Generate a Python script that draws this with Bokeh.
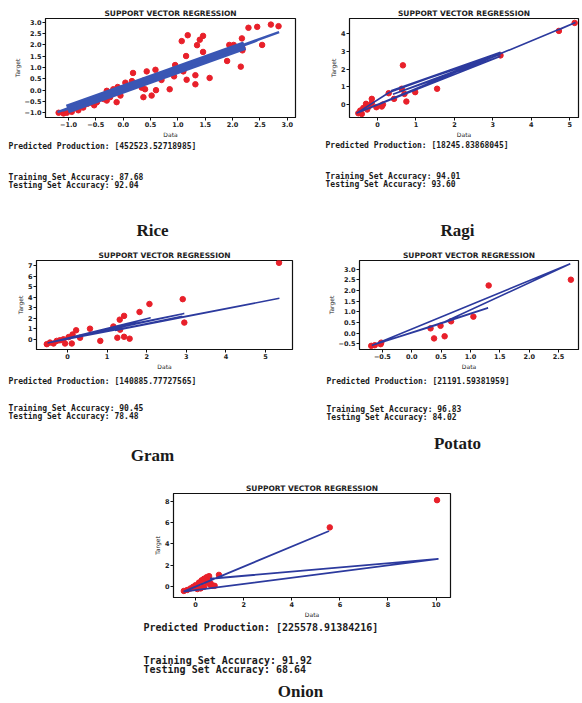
from bokeh.plotting import figure
from bokeh.layouts import column, row
from bokeh.models import Range1d, FixedTicker, Spacer
from bokeh.core.properties import value
from bokeh.embed import file_html
from bokeh.resources import INLINE

# ---------------- data ----------------
TITLE = "SUPPORT VECTOR REGRESSION"

rice_x = [1.18, 1.46, 1.40, 1.07, 1.35, 1.46, 1.15, 2.29, 2.45, 2.70, 2.84, 2.17, 2.18, 1.94, 2.02,
          2.54, 2.18, 1.90, 2.15, 1.07, 0.95, 1.10, 0.93, 1.16, 1.32, 1.32, 1.58, 0.85, 0.59, 0.43,
          0.38, 0.34, 0.40, 0.52, 0.60, 0.37, 0.31, 0.18, 0.04, 0.16, -0.10, -0.18, -0.30, -0.24,
          -0.42, -0.48, -0.53, -0.65, -0.73, -0.82, -0.94, -1.09, -1.18, -0.30, -0.12, -0.05,
          -0.53, -0.36, -0.76, -1.03, 0.70, 1.00, 0.25, -0.60]
rice_y = [2.43, 2.40, 2.23, 2.17, 1.99, 1.69, 1.51, 2.76, 2.80, 2.90, 2.83, 2.29, 1.86, 2.00, 2.00,
          2.00, 1.76, 1.29, 1.04, 0.97, 1.11, 0.83, 0.61, 0.46, 0.66, 0.26, 0.54, 0.04, 0.90, 0.83,
          0.43, 0.11, 0.04, -0.24, 0.00, -0.31, 0.33, 0.76, 0.33, 0.40, 0.14, 0.04, -0.03, -0.31,
          -0.31, -0.53, -0.67, -0.60, -0.77, -0.89, -0.96, -1.03, -1.00, -0.46, -0.53, -0.24,
          -0.43, -0.39, -0.67, -1.00, 0.45, 0.95, 0.30, -0.55]
rice_fit_x = [-1.20, 2.85, -1.10, 2.20, -1.15, 2.45]
rice_fit_y = [-0.97, 2.57, -0.90, 2.06, -0.93, 2.20]
rice_band_x = [-1.02, 2.22]
rice_band_y = [-0.83, 1.97]

ragi_x = [5.13, 4.72, 3.20, 0.66, 1.55, 0.98, 0.75, 0.70, 0.63, 0.29, 0.43, 0.14, 0.11, -0.15,
          -0.15, -0.23, -0.30, -0.37, -0.45, -0.50, -0.41, -0.03, -0.27]
ragi_y = [4.60, 4.15, 2.77, 2.21, 0.89, 0.70, 0.17, 0.60, 0.89, 0.64, 0.32, 0.00, -0.11, 0.32,
          0.08, -0.11, 0.04, -0.19, -0.34, -0.49, -0.53, -0.15, -0.28]
ragi_fit_x = [-0.55, 0.30, 3.20, 0.35, 3.20, 0.40, 3.20, -0.50, 5.15, 4.72]
ragi_fit_y = [-0.50, 0.68, 2.95, 0.78, 2.83, 0.58, 2.72, -0.45, 4.62, 4.22]

gram_x = [5.34, 2.91, 2.95, 2.07, 1.82, 1.43, 1.32, 1.16, 1.33, 1.26, 1.43, 1.57, 0.83, 0.57,
          0.22, 0.13, 0.32, 0.11, -0.06, 0.03, -0.10, -0.27, -0.44, -0.52, -0.35, -0.19]
gram_y = [7.28, 3.82, 1.59, 3.36, 2.60, 2.23, 1.87, 1.22, 0.92, 0.15, 0.24, 0.06, -0.15, 1.01,
          0.86, 0.46, 0.15, -0.40, -0.40, 0.21, 0.00, -0.15, -0.31, -0.46, -0.40, -0.09]
gram_fit_x = [-0.50, 2.10, 0.90, 2.95, -0.45, 5.35, 1.20, 2.90]
gram_fit_y = [-0.35, 2.05, 0.90, 2.45, -0.30, 3.90, 0.85, 2.20]

potato_x = [2.71, 1.31, 1.05, 0.32, 0.49, 0.67, 0.38, 0.56, -0.69, -0.63, -0.53, -0.52]
potato_y = [2.50, 2.23, 0.77, 0.22, 0.34, 0.55, -0.25, -0.15, -0.60, -0.57, -0.52, -0.45]
potato_fit_x = [-0.68, 2.70, 0.50, 1.30, -0.62, 0.45]
potato_fit_y = [-0.58, 3.25, 0.45, 1.18, -0.52, 0.40]

onion_x = [10.04, 5.58, 0.97, 0.49, -0.49, -0.35, -0.21, -0.10, 0.00, 0.14, 0.25, 0.35, 0.46,
           0.56, 0.49, 0.63, 0.69, 0.35, 0.21, 0.07, 0.79, 0.60]
onion_y = [8.08, 5.54, 1.11, 0.81, -0.39, -0.30, -0.15, 0.00, 0.15, 0.39, 0.60, 0.75, 0.90,
           0.99, 0.45, 0.30, 0.09, 0.00, -0.15, -0.21, 0.09, 0.20]
onion_fit_x = [5.55, -0.50, 10.10, 0.60]
onion_fit_y = [5.20, -0.45, 2.60, 0.75]

rice_xticks = [-1.0, -0.5, 0.0, 0.5, 1.0, 1.5, 2.0, 2.5, 3.0]
rice_yticks = [-1.0, -0.5, 0.0, 0.5, 1.0, 1.5, 2.0, 2.5, 3.0]
ragi_xticks = [0, 1, 2, 3, 4, 5]
ragi_yticks = [0, 1, 2, 3, 4]
gram_xticks = [0, 1, 2, 3, 4, 5]
gram_yticks = [0, 1, 2, 3, 4, 5, 6, 7]
potato_xticks = [-0.5, 0.0, 0.5, 1.0, 1.5, 2.0, 2.5]
potato_yticks = [-0.5, 0.0, 0.5, 1.0, 1.5, 2.0, 2.5, 3.0]
onion_xticks = [0, 2, 4, 6, 8, 10]
onion_yticks = [0, 2, 4, 6, 8]

crops = ["Rice", "Ragi", "Gram", "Potato", "Onion"]
predicted = ["452523.52718985", "18245.83868045", "140885.77727565", "21191.59381959", "225578.91384216"]
train_acc = ["87.68", "94.01", "90.45", "96.83", "91.92"]
test_acc = ["92.04", "93.60", "78.48", "84.02", "68.64"]

# ---------------- styling ----------------
RED = "#e8202a"
BLUE = "#2c3a9e"
BAND = "#3a56b4"
MONO = "DejaVu Sans Mono"
SERIF = "Liberation Serif"


def tick_text(t, dec):
    return (f"{t:.{dec}f}").replace("-", "\u2212")


def panel(width, height, borders, xr, yr, xticks, yticks, dec, px, py, lines):
    l, r, t, b = borders
    p = figure(width=width, height=height, x_range=Range1d(*xr), y_range=Range1d(*yr),
               output_backend="svg", toolbar_location=None, title=TITLE,
               min_border_left=l, min_border_right=r, min_border_top=t, min_border_bottom=b)
    p.title.align = "center"
    p.title.text_font = "DejaVu Sans"
    p.title.text_font_size = "7.5px"
    p.title.text_font_style = "bold"
    p.title.text_color = "#222222"
    p.title.standoff = 1
    p.title.offset = 0
    p.xgrid.visible = False
    p.ygrid.visible = False
    p.outline_line_color = "#111111"
    p.outline_line_width = 1.2
    p.background_fill_color = "white"
    p.border_fill_color = "white"
    p.xaxis.ticker = FixedTicker(ticks=xticks)
    p.yaxis.ticker = FixedTicker(ticks=yticks)
    p.xaxis.major_label_overrides = {t_: tick_text(t_, dec[0]) for t_ in xticks}
    p.yaxis.major_label_overrides = {t_: tick_text(t_, dec[1]) for t_ in yticks}
    for ax in (p.xaxis[0], p.yaxis[0]):
        ax.major_tick_out = 3
        ax.major_tick_in = 0
        ax.minor_tick_line_color = None
        ax.axis_line_color = "#111111"
        ax.major_tick_line_color = "#111111"
        ax.major_label_text_font = "DejaVu Sans"
        ax.major_label_text_font_size = "6.5px"
        ax.major_label_text_font_style = "bold"
        ax.major_label_text_color = "#222222"
        ax.major_label_standoff = 1
        ax.axis_label_text_font = "DejaVu Sans"
        ax.axis_label_text_font_size = "6px"
        ax.axis_label_text_font_style = "normal"
        ax.axis_label_text_color = "#222222"
        ax.axis_label_standoff = 1
    p.xaxis.axis_label = "Data"
    p.yaxis.axis_label = "Target"
    p.scatter(px, py, size=5.5, color=RED, line_color=RED)
    for xs, ys, w, c in lines:
        p.line(xs, ys, line_width=w, line_color=c)
    return p


def text_fig(width, height, items):
    p = figure(width=width, height=height, x_range=Range1d(0, width), y_range=Range1d(height, 0),
               output_backend="svg", toolbar_location=None, x_axis_type=None, y_axis_type=None,
               min_border=0)
    p.grid.visible = False
    p.outline_line_color = None
    for x, y, txt, font, size, style, align in items:
        p.text(x=[x], y=[y], text=[txt], text_font=value(font), text_font_size=size,
               text_font_style=style, text_align=align, text_baseline="middle",
               text_color="#1a1a1a")
    return p


def info_items(i, x, y0, ys, size, label_xy):
    return [
        (x, y0, f"Predicted Production: [{predicted[i]}]", MONO, size, "bold", "left"),
        (x, ys[0], f"Training Set Accuracy: {train_acc[i]}", MONO, size, "bold", "left"),
        (x, ys[1], f"Testing Set Accuracy: {test_acc[i]}", MONO, size, "bold", "left"),
        (label_xy[0], label_xy[1], crops[i], SERIF, "17px", "bold", "center"),
    ]


p1 = panel(300, 140, (45, 5, 15, 22), (-1.42, 3.15), (-1.21, 3.17), rice_xticks, rice_yticks, (1, 1),
           rice_x, rice_y, [(rice_band_x, rice_band_y, 9, BAND), (rice_fit_x, rice_fit_y, 2.5, BAND)])
p2 = panel(280, 140, (49, 2, 18, 23), (-0.73, 5.23), (-0.73, 4.85), ragi_xticks, ragi_yticks, (0, 0),
           ragi_x, ragi_y, [(ragi_fit_x, ragi_fit_y, 1.6, BLUE)])
t1 = text_fig(580, 108, info_items(0, 8, 6, (36.5, 44.5), "8px", (152, 90)) +
              info_items(1, 325, 5, (35.5, 43.5), "8px", (457, 90)))

p3 = panel(300, 124, (36, 8, 12, 17), (-0.78, 5.68), (-0.97, 7.5), gram_xticks, gram_yticks, (0, 0),
           gram_x, gram_y, [(gram_fit_x, gram_fit_y, 1.6, BLUE)])
p4 = panel(280, 124, (59, 2, 12, 18), (-0.89, 2.84), (-0.77, 3.40), potato_xticks, potato_yticks, (1, 1),
           potato_x, potato_y, [(potato_fit_x, potato_fit_y, 1.6, BLUE)])
t2 = text_fig(580, 98, info_items(2, 8, 9, (36, 44), "8px", (152, 83)) +
              info_items(3, 326, 9, (37, 45), "8px", (457, 71)))

p5 = panel(320, 150, (33, 10, 23, 19), (-0.92, 10.6), (-1.0, 8.7), onion_xticks, onion_yticks, (0, 0),
           onion_x, onion_y, [(onion_fit_x, onion_fit_y, 1.8, BLUE)])
t3 = text_fig(580, 83, info_items(4, 143, 7, (40, 49), "10px", (300, 71)))

layout = column(row(p1, p2), t1, row(p3, p4), t2,
                row(Spacer(width=140, height=150), p5), t3)

open("out.html", "w").write(file_html(layout, INLINE))
